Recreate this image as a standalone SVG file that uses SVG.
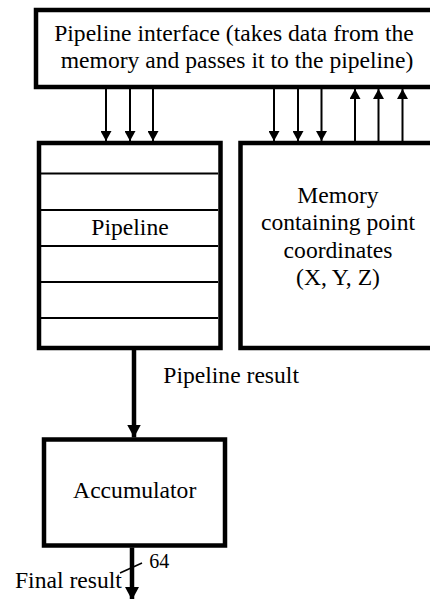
<svg xmlns="http://www.w3.org/2000/svg" width="430" height="599" viewBox="0 0 430 599">
<style>
  .box{fill:#fff;stroke:#000;stroke-width:4.5}
  .div{stroke:#000;stroke-width:2}
  text{font-family:'Liberation Serif','Times New Roman',serif;font-size:23.6px;fill:#000}
  .thin{stroke:#000;stroke-width:2;fill:none}
  .thick{stroke:#000;stroke-width:4.5;fill:none}
</style>
<defs>
  <marker id="ah" viewBox="0 0 10 11" refX="10" refY="5.5" markerWidth="10" markerHeight="11" markerUnits="userSpaceOnUse" orient="auto">
    <path d="M0,0 L10,5.5 L0,11 Z" fill="#000"/>
  </marker>
  <marker id="ahb" viewBox="0 0 13 14" refX="13" refY="7" markerWidth="13" markerHeight="14" markerUnits="userSpaceOnUse" orient="auto">
    <path d="M0,0 L13,7 L0,14 Z" fill="#000"/>
  </marker>
</defs>
<g id="interface">
  <rect class="box" x="36" y="10" width="420" height="77"/>
  <text x="234" y="40.5" text-anchor="middle">Pipeline interface (takes data from the</text>
  <text x="237" y="68.3" text-anchor="middle">memory and passes it to the pipeline)</text>
</g>
<g id="pipeline">
  <rect class="box" x="39" y="143" width="181.5" height="205"/>
  <line class="div" x1="41" y1="173.5" x2="218" y2="173.5"/>
  <line class="div" x1="41" y1="210" x2="218" y2="210"/>
  <line class="div" x1="41" y1="246" x2="218" y2="246"/>
  <line class="div" x1="41" y1="282" x2="218" y2="282"/>
  <line class="div" x1="41" y1="318" x2="218" y2="318"/>
  <text x="130" y="235" text-anchor="middle">Pipeline</text>
</g>
<g id="memory">
  <rect class="box" x="240.5" y="143" width="220" height="205"/>
  <text x="338" y="202.5" text-anchor="middle">Memory</text>
  <text x="338" y="230" text-anchor="middle">containing point</text>
  <text x="338" y="257.5" text-anchor="middle">coordinates</text>
  <text x="338" y="285" text-anchor="middle">(X, Y, Z)</text>
</g>
<g id="accumulator">
  <rect class="box" x="44" y="439.5" width="181" height="106"/>
  <text x="134.7" y="498.3" text-anchor="middle">Accumulator</text>
</g>
<g id="connectors">
  <line class="thin" x1="106" y1="89" x2="106" y2="141" marker-end="url(#ah)"/>
  <line class="thin" x1="130" y1="89" x2="130" y2="141" marker-end="url(#ah)"/>
  <line class="thin" x1="153" y1="89" x2="153" y2="141" marker-end="url(#ah)"/>
  <line class="thin" x1="274" y1="89" x2="274" y2="141" marker-end="url(#ah)"/>
  <line class="thin" x1="298" y1="89" x2="298" y2="141" marker-end="url(#ah)"/>
  <line class="thin" x1="321.5" y1="89" x2="321.5" y2="141" marker-end="url(#ah)"/>
  <line class="thin" x1="355" y1="141" x2="355" y2="89" marker-end="url(#ah)"/>
  <line class="thin" x1="378.5" y1="141" x2="378.5" y2="89" marker-end="url(#ah)"/>
  <line class="thin" x1="402.5" y1="141" x2="402.5" y2="89" marker-end="url(#ah)"/>
  <line class="thick" x1="134" y1="350" x2="134" y2="437.5" marker-end="url(#ahb)"/>
  <line class="thick" x1="132" y1="547.5" x2="132" y2="600" marker-end="url(#ahb)"/>
  <line stroke="#000" stroke-width="1.5" x1="120" y1="573" x2="142" y2="563"/>
  <text x="163.3" y="383.3">Pipeline result</text>
  <text x="15" y="588.3">Final result</text>
  <text x="149.3" y="567.5" style="font-size:20px">64</text>
</g>
</svg>
